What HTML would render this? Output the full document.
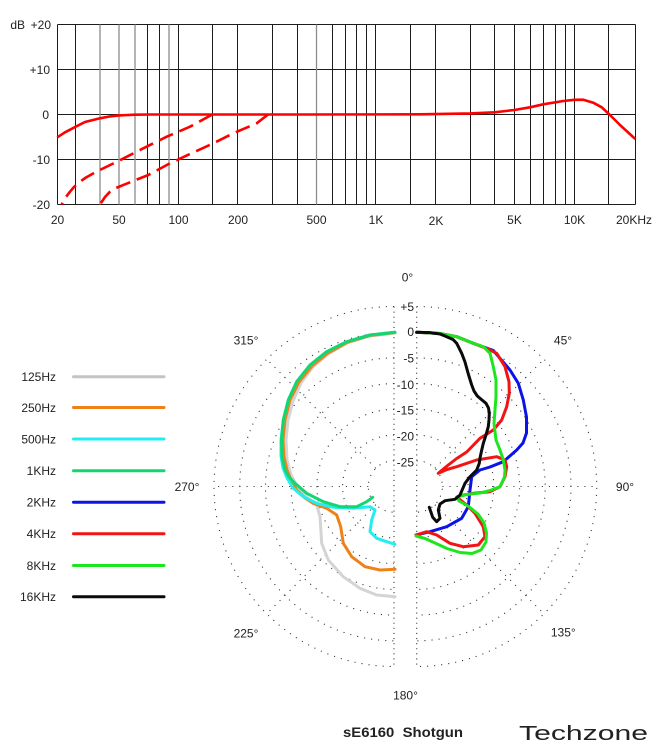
<!DOCTYPE html>
<html><head><meta charset="utf-8"><style>
html,body{margin:0;padding:0;background:#fff;}
svg{display:block;}
text{font-family:"Liberation Sans",sans-serif;fill:#222;}
</style></head><body>
<svg width="661" height="752" viewBox="0 0 661 752" xmlns="http://www.w3.org/2000/svg">
<rect width="661" height="752" fill="#fff"/>
<!-- Frequency response grid -->
<g stroke="#1c1c1c" stroke-width="1" fill="none">
<line x1="57.5" y1="24.5" x2="635.5" y2="24.5"/>
<line x1="57.5" y1="69.5" x2="635.5" y2="69.5"/>
<line x1="57.5" y1="114.5" x2="635.5" y2="114.5"/>
<line x1="57.5" y1="159.5" x2="635.5" y2="159.5"/>
<line x1="57.5" y1="204.5" x2="635.5" y2="204.5"/>
<line x1="57.5" y1="24.5" x2="57.5" y2="204.5"/>
<line x1="635.5" y1="24.5" x2="635.5" y2="204.5"/>
<line x1="75.5" y1="24.5" x2="75.5" y2="204.5"/>
<line x1="147.5" y1="24.5" x2="147.5" y2="204.5"/>
<line x1="159.5" y1="24.5" x2="159.5" y2="204.5"/>
<line x1="178.5" y1="24.5" x2="178.5" y2="204.5"/>
<line x1="212.5" y1="24.5" x2="212.5" y2="204.5"/>
<line x1="237.5" y1="24.5" x2="237.5" y2="204.5"/>
<line x1="272.5" y1="24.5" x2="272.5" y2="204.5"/>
<line x1="297.5" y1="24.5" x2="297.5" y2="204.5"/>
<line x1="332.5" y1="24.5" x2="332.5" y2="204.5"/>
<line x1="345.5" y1="24.5" x2="345.5" y2="204.5"/>
<line x1="356.5" y1="24.5" x2="356.5" y2="204.5"/>
<line x1="366.5" y1="24.5" x2="366.5" y2="204.5"/>
<line x1="375.5" y1="24.5" x2="375.5" y2="204.5"/>
<line x1="410.5" y1="24.5" x2="410.5" y2="204.5"/>
<line x1="435.5" y1="24.5" x2="435.5" y2="204.5"/>
<line x1="470.5" y1="24.5" x2="470.5" y2="204.5"/>
<line x1="494.5" y1="24.5" x2="494.5" y2="204.5"/>
<line x1="514.5" y1="24.5" x2="514.5" y2="204.5"/>
<line x1="530.5" y1="24.5" x2="530.5" y2="204.5"/>
<line x1="543.5" y1="24.5" x2="543.5" y2="204.5"/>
<line x1="555.5" y1="24.5" x2="555.5" y2="204.5"/>
<line x1="565.5" y1="24.5" x2="565.5" y2="204.5"/>
<line x1="574.5" y1="24.5" x2="574.5" y2="204.5"/>
<line x1="608.5" y1="24.5" x2="608.5" y2="204.5"/>
</g>
<g stroke="#8c8c8c" stroke-width="1.3" fill="none">
<line x1="100" y1="24.5" x2="100" y2="204.5"/>
<line x1="119" y1="24.5" x2="119" y2="204.5"/>
<line x1="135" y1="24.5" x2="135" y2="204.5"/>
<line x1="169" y1="24.5" x2="169" y2="204.5"/>
<line x1="316.5" y1="24.5" x2="316.5" y2="204.5"/>
</g>
<!-- Y labels -->
<g font-size="12" text-anchor="end">
<text x="25" y="29">dB</text>
<text x="51" y="29">+20</text>
<text x="50" y="74">+10</text>
<text x="49" y="119">0</text>
<text x="50" y="164">-10</text>
<text x="50" y="209">-20</text>
</g>
<g font-size="12" text-anchor="middle">
<text x="57.5" y="224">20</text>
<text x="119" y="224">50</text>
<text x="178.5" y="224">100</text>
<text x="238" y="224">200</text>
<text x="316.5" y="224">500</text>
<text x="376" y="224">1K</text>
<text x="436" y="225">2K</text>
<text x="514.5" y="224">5K</text>
<text x="574.5" y="224">10K</text>
<text x="634" y="224">20KHz</text>
</g>
<!-- Frequency curves -->
<g stroke="#fe0000" stroke-width="2.6" fill="none" stroke-linejoin="round" stroke-linecap="butt">
<polyline points="57.3,137.3 65,132.3 75.7,126.7 85,122 100,118.3 110,116.4 119,115.4 135,114.7 150,114.5 300,114.5 420,114.3 470,113.4 494.7,112.3 514.3,110 530,107.3 543.3,104.3 563.3,101 574.3,99.8 583.3,99.7 593.3,102.7 601.7,107.3 610,115 620,125 635.3,139"/>
<polyline stroke-dasharray="15 7" points="212.3,114.5 190,126.7 166.7,136.7 143.3,148.3 119,160.7 96.7,171.5 86,177.5 80,181.7 74,187 70,191.7 66,197 61.7,204.5"/>
<polyline stroke-dasharray="15 7" points="268,114.5 256.7,123.3 233.3,133.3 213.3,143.3 190,154 170,163.3 148.3,175 125,184.3 116,188 110,191.7 105,197 100,204.5"/>
</g>

<!-- Polar grid -->
<g stroke="#3a3a3a" stroke-width="1.1" fill="none" stroke-dasharray="1.1 6">
<path d="M394,460.8 A25.7,25.7 0 0 0 394,512.2"/>
<path d="M394,435.1 A51.4,51.4 0 0 0 394,537.9"/>
<path d="M394,409.4 A77.1,77.1 0 0 0 394,563.6"/>
<path d="M394,383.6 A102.9,102.9 0 0 0 394,589.4"/>
<path d="M394,357.9 A128.6,128.6 0 0 0 394,615.1"/>
<path d="M394,332.2 A154.3,154.3 0 0 0 394,640.8"/>
<path d="M394,306.5 A180,180 0 0 0 394,666.5"/>
<path d="M416.7,460.8 A25.7,25.7 0 0 1 416.7,512.2"/>
<path d="M416.7,435.1 A51.4,51.4 0 0 1 416.7,537.9"/>
<path d="M416.7,409.4 A77.1,77.1 0 0 1 416.7,563.6"/>
<path d="M416.7,383.6 A102.9,102.9 0 0 1 416.7,589.4"/>
<path d="M416.7,357.9 A128.6,128.6 0 0 1 416.7,615.1"/>
<path d="M416.7,332.2 A154.3,154.3 0 0 1 416.7,640.8"/>
<path d="M416.7,306.5 A180,180 0 0 1 416.7,666.5"/>
<line x1="368.3" y1="486.5" x2="214" y2="486.5"/>
<line x1="375.8" y1="468.3" x2="266.7" y2="359.2"/>
<line x1="375.8" y1="504.7" x2="266.7" y2="613.8"/>
<line x1="442.4" y1="486.5" x2="596.7" y2="486.5"/>
<line x1="434.9" y1="468.3" x2="544" y2="359.2"/>
<line x1="434.9" y1="504.7" x2="544" y2="613.8"/>
</g>
<g stroke="#3a3a3a" stroke-width="1.1" fill="none" stroke-dasharray="1.1 4">
<line x1="394" y1="306.5" x2="394" y2="666.5"/>
<line x1="416.7" y1="306.5" x2="416.7" y2="666.5"/>
</g>
<!-- ring labels -->
<g font-size="12" text-anchor="end">
<text x="414" y="311">+5</text>
<text x="414" y="336">0</text>
<text x="414" y="362.5">-5</text>
<text x="414" y="389">-10</text>
<text x="414" y="414.5">-15</text>
<text x="414" y="440.5">-20</text>
<text x="414" y="466.5">-25</text>
</g>
<g font-size="12" text-anchor="middle">
<text x="407.5" y="281.5">0°</text>
<text x="246" y="344.5">315°</text>
<text x="563" y="344.5">45°</text>
<text x="187" y="491">270°</text>
<text x="625" y="491">90°</text>
<text x="246" y="637.5">225°</text>
<text x="563.3" y="636.5">135°</text>
<text x="405.5" y="699.5">180°</text>
</g>

<!-- Polar curves -->
<g fill="none" stroke-width="3" stroke-linejoin="round" stroke-linecap="round">
<polyline stroke="#d4d4d4" points="395,333 370,336 347,343 328,354 313,367 301,383 293,401 288,420 286,440 287,460 291,475 298,488 308,498 316.7,505 320,516.7 321.7,543.3 328.3,560 343.3,576.7 360,588.3 376.7,595 395,596.7"/>
<polyline stroke="#f08018" points="395,332.5 370,335.5 347,342.5 328,353 312,366 299,382 290,400 285,420 283,440 284,457 287,470 291,480 296.7,490 305,498 313.3,503.3 326.7,508.3 336.7,515 340.7,526.7 343.3,543.3 351.7,556.7 365,566.7 380,570 395,569.3"/>
<polyline stroke="#22eef2" points="395,332.3 370,335 346.7,341.7 326.7,351.7 310,365 296.7,381.7 288.3,400 283.3,420 281,440 281,456 283,468 287,478 293.3,488.3 303.3,496.7 316.7,503.3 333.3,507.3 353.3,508.3 370,506.7 375,510 371.7,520 370,531.7 376.7,538.3 386.7,541.7 395,544.3"/>
<polyline stroke="#14d66e" points="395,332.3 370,335 346.7,341.7 326.7,351.7 310,365 296.7,381.7 288.3,400 283.3,420 281.5,440 282,456.7 285,470 289,477 295,483.3 306.7,493.3 323.3,501.7 340,506.7 356.7,506.7 366.7,501.7 372.7,497.3"/>

<polyline stroke="#0a14e6" points="416.7,332.3 440,333.5 456.7,336.7 473.3,343.3 493.3,350.5 500,358.3 510,370 518.3,383.3 523.3,400 526.5,417 526.5,433 523,443 516.7,450 503.3,461.7 490,467 480,470 471.7,476.7 470,490 468.3,506.7 461.7,518.3 446.7,526.7 430,531.7 416,535"/>
<polyline stroke="#f21414" points="416.7,332.3 440,333.5 456.7,336.7 473.3,343.3 486.7,348.5 496.7,353.3 505,366.7 509,381.7 509.3,393.3 506.7,406.7 501.7,420 493.3,430 480,438.3 466.7,452 456.7,458.5 447,466 438.3,473.3 447,469.5 456.7,466.7 476.7,460 496.7,456.7 505,460 506.7,466.7 505,476.7 500,486.7 490,491.7 473.3,493.3 463.3,495 456.7,497 466.7,505 475,513.3 483.3,526.7 485,536.7 478.3,545 463.3,546.7 450,543.3 436.7,535 426.7,531.7 416,535"/>
<polyline stroke="#1ee61e" points="416.7,332.3 440,333.5 456.7,336.7 473.3,343.3 483.3,346.7 490,353.3 493.3,366.7 496,380 496,396.7 495,410 494,423.3 496,440 500,450 503.3,460 505,470 504.5,477 500,486.7 490,490.5 480,493 466.7,494.5 456.7,497 459,501 468,506 478,514 484,523 486.5,533 486,542 481,550 472,553.5 460,552.5 447,548.5 435,543 425,538.5 416,536"/>
<polyline stroke="#0a0a0a" points="416.7,332.3 430,332.6 440,334 446.7,336.7 453,339.5 456.7,343.3 461.7,353.3 465,362 468.3,374 471.7,385 474,391 477.3,396 482,400 486,403.3 488.5,408 489.3,413.3 489,420 488.3,426.7 486,435 483.3,443.3 481.5,451 480,458 479.3,463.3 476.7,470 470,476.7 465,483.3 460,495 455,499.3 445,500.7 440,504 438.3,510 440,518.3 436.7,521.7 432.7,517.3 429.3,507.3"/>
</g>

<!-- Legend -->
<g font-size="12" text-anchor="end">
<text x="56" y="381">125Hz</text>
<text x="56" y="412">250Hz</text>
<text x="56" y="443.5">500Hz</text>
<text x="56" y="475">1KHz</text>
<text x="56" y="506.5">2KHz</text>
<text x="56" y="538">4KHz</text>
<text x="56" y="570">8KHz</text>
<text x="56" y="601">16KHz</text>
</g>
<g stroke-width="3" stroke-linecap="round">
<line x1="73.5" y1="376.7" x2="164" y2="376.7" stroke="#c4c4c4"/>
<line x1="73.5" y1="407.5" x2="164" y2="407.5" stroke="#f08018"/>
<line x1="73.5" y1="439" x2="164" y2="439" stroke="#22eef2"/>
<line x1="73.5" y1="470.7" x2="164" y2="470.7" stroke="#14d66e"/>
<line x1="73.5" y1="502.3" x2="164" y2="502.3" stroke="#0a14e6"/>
<line x1="73.5" y1="533.7" x2="164" y2="533.7" stroke="#f21414"/>
<line x1="73.5" y1="565.5" x2="164" y2="565.5" stroke="#1ee61e"/>
<line x1="73.5" y1="596.7" x2="164" y2="596.7" stroke="#0a0a0a"/>
</g>

<!-- Footer -->
<text x="343" y="737" font-size="14" font-weight="bold" fill="#111" textLength="120" lengthAdjust="spacingAndGlyphs" xml:space="preserve">sE6160  Shotgun</text>
<text x="519" y="740" font-size="20" fill="#111" textLength="129" lengthAdjust="spacingAndGlyphs">Techzone</text>
</svg>
</body></html>
